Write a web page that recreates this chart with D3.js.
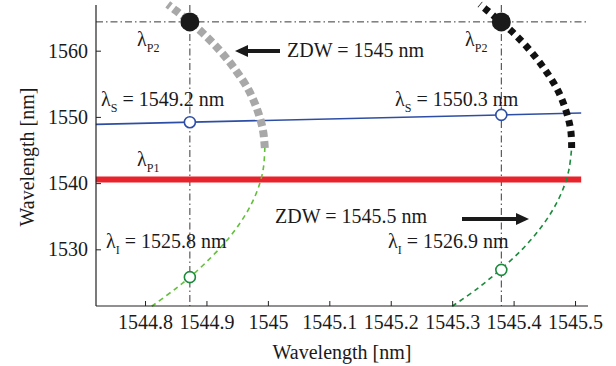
<!DOCTYPE html>
<html>
<head>
<meta charset="utf-8">
<script src="https://cdn.jsdelivr.net/npm/d3@7"></script>
<style>
  body { margin: 0; background: #fff; }
  svg text, svg tspan { font-family: "Liberation Serif", serif !important; }
</style>
</head>
<body>
<div id="chart"></div>
<script>
// axis ticks
const xTicks = [1544.8, 1544.9, 1545, 1545.1, 1545.2, 1545.3, 1545.4, 1545.5];
const yTicks = [1530, 1540, 1550, 1560];

// phase matching curves (ZDW on x, wavelength on y)
const leftIdlerY = [1521.4, 1524, 1525.8, 1528, 1531, 1534, 1537, 1540, 1542.5, 1545.3];
const leftIdlerX = [1544.811, 1544.849, 1544.873, 1544.899, 1544.930, 1544.955, 1544.974, 1544.987, 1544.993, 1544.995];
const leftPumpY = [1545.3, 1548, 1551, 1554, 1557, 1560, 1563, 1566, 1567];
const leftPumpX = [1544.995, 1544.992, 1544.983, 1544.969, 1544.948, 1544.922, 1544.890, 1544.851, 1544.837];

const rightIdlerY = [1521.4, 1524, 1526.9, 1530, 1533, 1536, 1539, 1542, 1545.3];
const rightIdlerX = [1545.300, 1545.340, 1545.378, 1545.414, 1545.442, 1545.464, 1545.480, 1545.490, 1545.4945];
const rightPumpY = [1545.3, 1548, 1551, 1554, 1557, 1560, 1563, 1566, 1567];
const rightPumpX = [1545.4945, 1545.493, 1545.485, 1545.472, 1545.452, 1545.427, 1545.396, 1545.358, 1545.345];

// straight lines
const signalLineX = [1544.72, 1545.51];
const signalLineY = [1548.87, 1550.58];
const pump1LineX = [1544.72, 1545.51];
const pump1Level = 1540.56;
const pump2Level = 1564.35;

// operating points
const zdwMarks = [1544.873, 1545.38];
const signalPts = [1549.2, 1550.3];
const idlerPts = [1525.8, 1526.9];

const width = 616, height = 366;
const svg = d3.select("#chart").append("svg")
  .attr("width", width).attr("height", height);

const x = d3.scaleLinear().domain([1544.7202, 1545.5211]).range([96, 588]);
const y = d3.scaleLinear().domain([1521.44, 1566.9]).range([306, 5]);

const line = d3.line().x(d => x(d[0])).y(d => y(d[1])).curve(d3.curveCatmullRom);
const zip = (xs, ys) => xs.map((v, i) => [v, ys[i]]);

// dash-dot guides
const dashDot = "7,3,1.5,3";
svg.append("line")
  .attr("x1", x.range()[0]).attr("x2", x.range()[1])
  .attr("y1", y(pump2Level)).attr("y2", y(pump2Level))
  .attr("stroke", "#222").attr("stroke-width", 0.9).attr("stroke-dasharray", dashDot);
svg.selectAll(".vguide").data(zdwMarks).join("line")
  .attr("x1", d => x(d)).attr("x2", d => x(d))
  .attr("y1", y.range()[1]).attr("y2", y.range()[0])
  .attr("stroke", "#222").attr("stroke-width", 0.9).attr("stroke-dasharray", dashDot);

// pump 1 (red)
svg.append("line")
  .attr("x1", x(pump1LineX[0])).attr("x2", x(pump1LineX[1]))
  .attr("y1", y(pump1Level)).attr("y2", y(pump1Level))
  .attr("stroke", "#e8232b").attr("stroke-width", 6);

// signal (blue)
svg.append("path")
  .attr("d", d3.line().x(d => x(d[0])).y(d => y(d[1]))(zip(signalLineX, signalLineY)))
  .attr("fill", "none").attr("stroke", "#2e4ea6").attr("stroke-width", 1.6);

// idler curves
svg.append("path").attr("d", line(zip(leftIdlerX, leftIdlerY)))
  .attr("fill", "none").attr("stroke", "#62c03a").attr("stroke-width", 1.6)
  .attr("stroke-dasharray", "5,4");
svg.append("path").attr("d", line(zip(rightIdlerX, rightIdlerY)))
  .attr("fill", "none").attr("stroke", "#1b8a3c").attr("stroke-width", 1.6)
  .attr("stroke-dasharray", "5,4");

// pump 2 curves
svg.append("path").attr("d", line(zip(leftPumpX, leftPumpY)))
  .attr("fill", "none").attr("stroke", "#a8a8a8").attr("stroke-width", 8)
  .attr("stroke-dasharray", "7,4");
svg.append("path").attr("d", line(zip(rightPumpX, rightPumpY)))
  .attr("fill", "none").attr("stroke", "#111").attr("stroke-width", 7)
  .attr("stroke-dasharray", "6,5");

// axes
const xAxis = d3.axisBottom(x).tickValues(xTicks).tickSize(-5).tickPadding(9)
  .tickFormat(d => String(+d.toFixed(1)));
const gx = svg.append("g").attr("transform", `translate(0,${y.range()[0]})`).call(xAxis);
const yAxis = d3.axisLeft(y).tickValues(yTicks).tickSize(-5).tickPadding(8)
  .tickFormat(d3.format("d"));
const gy = svg.append("g").attr("transform", `translate(${x.range()[0]},0)`).call(yAxis);
[gx, gy].forEach(g => {
  g.select(".domain").attr("stroke", "#222").attr("stroke-width", 1.2);
  g.selectAll(".tick line").attr("stroke", "#222");
  g.selectAll(".tick text").attr("font-size", 20);
});
gx.select(".domain").attr("d", `M${x.range()[0]},0H${x.range()[1]}`);
gy.select(".domain").attr("d", `M0,${y.range()[0]}V${y.range()[1]}`);

// points
svg.selectAll(".pp").data(zdwMarks).join("circle")
  .attr("cx", d => x(d)).attr("cy", y(pump2Level)).attr("r", 9.5).attr("fill", "#1a1a1a");
svg.selectAll(".sp").data(zdwMarks).join("circle")
  .attr("cx", d => x(d)).attr("cy", (d, i) => y(signalPts[i])).attr("r", 5.5)
  .attr("fill", "#fff").attr("stroke", "#2e4ea6").attr("stroke-width", 1.6);
svg.selectAll(".ip").data(zdwMarks).join("circle")
  .attr("cx", d => x(d)).attr("cy", (d, i) => y(idlerPts[i])).attr("r", 5.5)
  .attr("fill", "#fff").attr("stroke", "#1b8a3c").attr("stroke-width", 1.6);

// labels
function lambda(px, py, sub, rest) {
  const t = svg.append("text").attr("x", px).attr("y", py).attr("font-size", 20);
  t.append("tspan").text("λ");
  t.append("tspan").attr("font-size", 12).attr("dy", 6).text(sub);
  if (rest) t.append("tspan").attr("dy", -6).text(rest);
}
lambda(137, 46, "P2");
lambda(465, 46, "P2");
lambda(137, 166, "P1");
lambda(101, 106, "S", " = 1549.2 nm");
lambda(395, 106, "S", " = 1550.3 nm");
lambda(106, 248, "I", " = 1525.8 nm");
lambda(388, 248, "I", " = 1526.9 nm");

svg.append("text").attr("x", 287).attr("y", 57).attr("font-size", 20).text("ZDW = 1545 nm");
svg.append("text").attr("x", 275).attr("y", 223).attr("font-size", 20).text("ZDW = 1545.5 nm");

// arrows
function arrow(x1, x2, yy) {
  const dir = Math.sign(x2 - x1);
  svg.append("line").attr("x1", x1).attr("x2", x2 - dir * 10).attr("y1", yy).attr("y2", yy)
    .attr("stroke", "#1a1a1a").attr("stroke-width", 4);
  svg.append("path")
    .attr("d", `M${x2},${yy}L${x2 - dir * 13},${yy - 6}L${x2 - dir * 13},${yy + 6}Z`)
    .attr("fill", "#1a1a1a");
}
arrow(280, 235, 51);
arrow(462, 529, 219);

// axis titles
svg.append("text").attr("x", 342).attr("y", 359).attr("text-anchor", "middle")
  .attr("font-size", 20).text("Wavelength [nm]");
svg.append("text").attr("transform", "translate(34,157) rotate(-90)")
  .attr("text-anchor", "middle").attr("font-size", 20).text("Wavelength [nm]");

// serif everywhere
svg.selectAll("text").attr("style", "font-family: 'Liberation Serif', serif !important; fill: #1a1a1a;");
</script>
</body>
</html>
